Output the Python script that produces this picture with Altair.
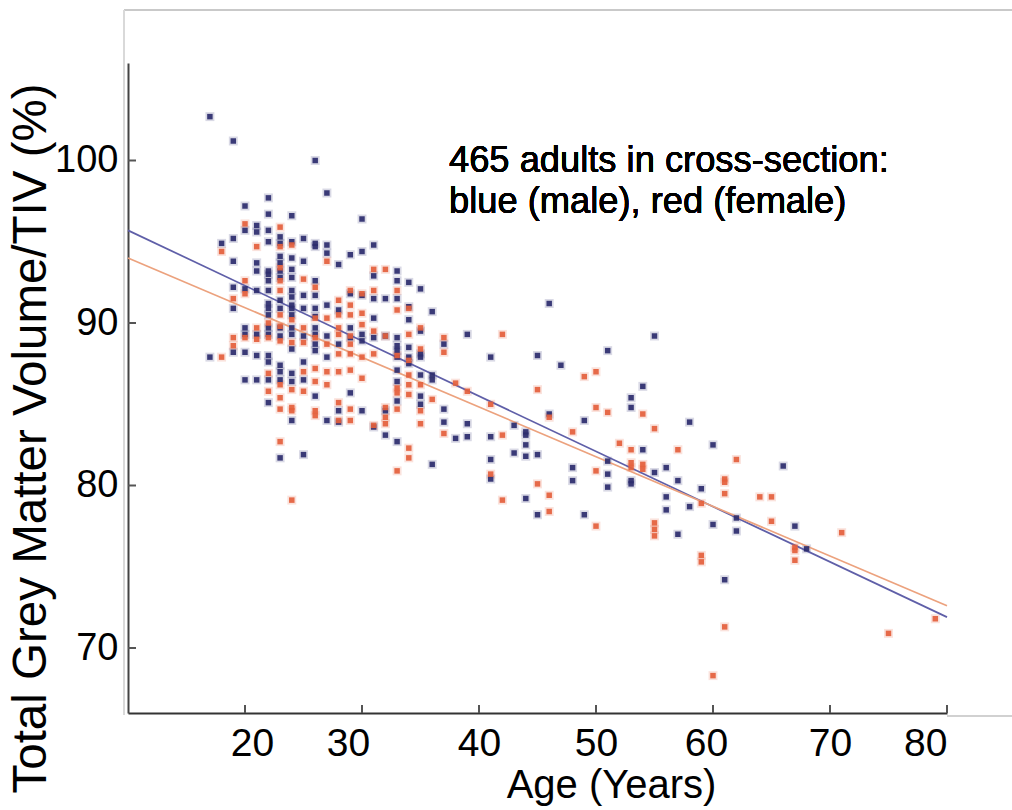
import altair as alt
import pandas as pd

# ---- data ----
male_by_age = {
    17: [102.7, 87.9],
    18: [94.9],
    19: [101.2, 95.2, 93.8, 92.2, 90.9, 88.2],
    20: [97.2, 95.7, 92.1, 89.7, 89.3, 88.2, 86.5],
    21: [96.0, 95.6, 93.7, 93.2, 92.0, 89.3, 88.0, 86.5],
    22: [97.7, 96.7, 95.7, 95.0, 93.2, 93.0, 92.6, 92.0, 91.2, 90.9, 90.5, 89.7, 89.3, 88.0, 87.6, 86.5, 85.1],
    23: [95.3, 94.9, 94.1, 93.7, 93.2, 92.8, 91.4, 90.9, 89.7, 89.2, 87.4, 87.0, 86.5, 81.7],
    24: [96.6, 95.0, 94.0, 93.3, 92.8, 92.0, 91.6, 91.1, 90.9, 90.5, 89.7, 89.3, 88.4, 86.9, 86.4, 84.0],
    25: [95.2, 93.8, 91.7, 90.9, 89.2, 87.6, 86.5, 81.9],
    26: [100.0, 94.9, 94.7, 92.6, 91.7, 90.9, 90.4, 89.7, 89.3, 88.7, 88.3, 85.5],
    27: [98.0, 94.8, 94.3, 91.1, 89.2, 87.9, 84.0],
    28: [93.6, 90.8, 88.7, 84.6, 83.9],
    29: [94.2, 91.8, 89.7, 89.1, 85.7],
    30: [96.4, 94.4, 91.7, 89.3, 88.9, 84.6],
    31: [94.8, 92.9, 91.5, 90.3, 89.1, 83.6],
    32: [91.5, 89.2, 84.6, 83.1],
    33: [93.2, 92.6, 91.5, 89.1, 88.6, 88.3, 87.9, 87.1, 86.4, 85.2, 82.7],
    34: [92.5, 91.0, 90.2, 88.5, 87.9, 87.5],
    35: [92.1, 89.5, 88.1, 87.9, 86.8, 85.5, 85.0],
    36: [90.7, 86.8, 86.5, 81.3],
    37: [88.7, 84.7, 83.9],
    38: [82.9],
    39: [89.3, 83.8, 83.0],
    41: [87.9, 83.0, 81.6, 80.4],
    43: [83.7, 82.0],
    44: [83.3, 83.1, 82.5, 81.8, 79.2],
    45: [88.0, 81.9, 78.2],
    46: [91.2, 84.4],
    47: [87.4],
    48: [81.1, 80.3],
    49: [84.0, 78.2],
    51: [88.3, 81.5, 80.7, 79.9],
    53: [85.4, 84.8, 80.3, 80.1],
    54: [86.1, 82.2],
    55: [89.2, 80.8],
    56: [81.1, 79.3, 78.5],
    57: [80.3, 77.0],
    58: [83.9, 78.7],
    59: [79.8],
    60: [82.5, 77.6],
    61: [74.2],
    62: [78.0, 77.2],
    66: [81.2],
    67: [77.5],
    68: [76.1],
}

female_by_age = {
    18: [94.4, 87.9],
    19: [91.5, 89.1, 88.6],
    20: [96.1, 92.6, 91.8, 89.1],
    21: [94.7, 89.7, 89.0],
    22: [90.0, 89.1, 86.9, 85.8],
    23: [95.9, 94.7, 93.4, 92.6, 92.0, 90.5, 89.8, 88.9, 86.2, 85.4, 84.7, 82.7],
    24: [94.8, 90.2, 88.8, 85.9, 84.8, 84.6, 79.1],
    25: [92.7, 89.7, 88.8, 87.0, 85.8],
    26: [92.2, 90.3, 89.1, 87.2, 86.4, 84.6, 84.3],
    27: [93.8, 90.3, 88.7, 87.0, 86.2],
    28: [91.4, 90.5, 89.7, 89.3, 88.1, 87.0, 85.1, 84.0],
    29: [92.0, 91.1, 90.5, 89.2, 88.7, 88.1, 87.1, 84.7, 84.0],
    30: [91.8, 90.6, 89.9, 87.9, 86.6],
    31: [93.3, 92.0, 89.5, 88.1, 83.7],
    32: [93.3, 89.2, 84.8, 84.2, 83.8],
    33: [92.0, 90.8, 88.0, 86.0, 85.7, 84.7, 80.9],
    34: [90.9, 89.3, 87.7, 86.8, 86.2, 85.6, 82.3, 81.7],
    35: [89.7, 88.4, 86.2, 84.6, 83.8],
    36: [85.3],
    37: [89.1, 88.2, 83.2],
    38: [86.3],
    39: [85.8],
    41: [85.0, 80.7],
    42: [89.3, 83.1, 79.1],
    45: [85.9, 80.1],
    46: [84.2, 79.4, 78.4],
    48: [83.3],
    49: [86.7],
    50: [87.0, 84.8, 80.9, 77.5],
    51: [84.5],
    52: [82.6],
    53: [82.2, 81.4, 81.1],
    54: [84.4, 81.3, 81.0],
    55: [83.5, 77.7, 77.3, 76.9],
    57: [82.2],
    59: [78.9, 75.7, 75.3],
    60: [68.3],
    61: [80.4, 80.2, 79.5, 71.3],
    62: [81.6],
    64: [79.3],
    65: [79.3, 77.8],
    67: [76.2, 76.0, 75.4],
    71: [77.1],
    75: [70.9],
    79: [71.8],
}

fit_age = [10, 80]
male_fit = [95.7, 71.9]
female_fit = [94.0, 72.6]

x_ticks = [20, 30, 40, 50, 60, 70, 80]
y_ticks = [70, 80, 90, 100]
note_lines = ["465 adults in cross-section:", "blue (male), red (female)"]

# ---- build tables ----
rows = []
for a, vs in male_by_age.items():
    for v in vs:
        rows.append({"age": a, "val": v, "sex": "male"})
for a, vs in female_by_age.items():
    for v in vs:
        rows.append({"age": a, "val": v, "sex": "female"})
pts = pd.DataFrame(rows)

fits = pd.DataFrame(
    [{"age": a, "val": v, "grp": "male fit"} for a, v in zip(fit_age, male_fit)]
    + [{"age": a, "val": v, "grp": "female fit"} for a, v in zip(fit_age, female_fit)]
)
xt = pd.DataFrame({"age": x_ticks})
yt = pd.DataFrame({"val": y_ticks})

W, H = 819, 650
REG = "Liberation Sans, Arial, Helvetica, sans-serif"

x_enc = alt.X(
    "age:Q",
    scale=alt.Scale(domain=[10, 80], nice=False, zero=False),
    axis=alt.Axis(
        values=x_ticks, ticks=False, grid=False, domainColor="#333333", domainWidth=2,
        labelFont=REG, labelFontSize=39, labelColor="#000000", labelPadding=11,
        labelOffset={
            "condition": [
                {"test": "datum.value == 20", "value": 7},
                {"test": "datum.value == 30", "value": -14},
                {"test": "datum.value == 60", "value": -7},
            ],
            "value": 0,
        },
        title="Age (Years)", titleFont=REG, titleFontSize=40, titleFontWeight="normal",
        titleColor="#000000", titleX=483, titleY=84, titleBaseline="alphabetic",
    ),
)
y_enc = alt.Y(
    "val:Q",
    scale=alt.Scale(domain=[66, 106], nice=False, zero=False),
    axis=alt.Axis(
        values=y_ticks, ticks=False, grid=False, domainColor="#444444", domainWidth=2,
        labelFont=REG, labelFontSize=38, labelColor="#000000", labelPadding=10,
        title="Total Grey Matter Volume/TIV (%)", titleFont=REG, titleFontSize=47.5,
        titleFontWeight="normal", titleColor="#000000", titleX=-97, titleY=375,
        titleAngle=-90, titleAlign="center", titleBaseline="middle",
    ),
)

color_pts = alt.Color(
    "sex:N",
    scale=alt.Scale(domain=["male", "female"], range=["#2c2d6e", "#e4603c"]),
    legend=None,
)
color_fit = alt.Color(
    "grp:N",
    scale=alt.Scale(domain=["male fit", "female fit"], range=["#5f5fa8", "#eca27e"]),
    legend=None,
)

frame_top = alt.Chart(xt).mark_rule(color="#c8c8c8", strokeWidth=1.5).encode(
    x=alt.value(-4), x2=alt.value(884), y=alt.value(-53)
)
frame_left = alt.Chart(xt).mark_rule(color="#d8d8d8", strokeWidth=1.5).encode(
    x=alt.value(-4), y=alt.value(-53), y2=alt.value(H + 2)
)
frame_bottom = alt.Chart(xt).mark_rule(color="#d0d0d0", strokeWidth=1.5).encode(
    x=alt.value(W), x2=alt.value(884), y=alt.value(H + 3)
)

halo = alt.Chart(pts).mark_square(size=80, opacity=0.18).encode(
    x=x_enc, y=y_enc, color=color_pts
)
points = alt.Chart(pts).mark_square(size=30, opacity=0.92).encode(
    x=x_enc, y=y_enc, color=color_pts
)
lines = alt.Chart(fits).mark_line(strokeWidth=1.7).encode(
    x=x_enc, y=y_enc, color=color_fit, detail="grp:N"
)
xtick_marks = alt.Chart(xt).mark_rule(color="#555555", strokeWidth=2).encode(
    x=x_enc, y=alt.value(H), y2=alt.value(H - 8)
)
ytick_marks = alt.Chart(yt).mark_rule(color="#555555", strokeWidth=2).encode(
    y=y_enc, x=alt.value(0), x2=alt.value(8)
)
note = alt.Chart(xt).mark_text(
    text=note_lines, align="left", baseline="alphabetic", font=REG,
    fontSize=36.3, lineHeight=41, color="#000000",
).encode(x=alt.value(321), y=alt.value(109))

chart = (
    alt.layer(frame_top, frame_left, frame_bottom, halo, lines, points, xtick_marks, ytick_marks, note)
    .resolve_scale(color="independent")
    .properties(
        width=W, height=H,
        padding={"left": 128, "top": 63, "right": 65, "bottom": 97},
        autosize=alt.AutoSizeParams(type="none"),
        background="#ffffff",
    )
    .configure_view(stroke=None)
)

chart.save("out.html", embed_options={"renderer": "svg", "actions": False})
